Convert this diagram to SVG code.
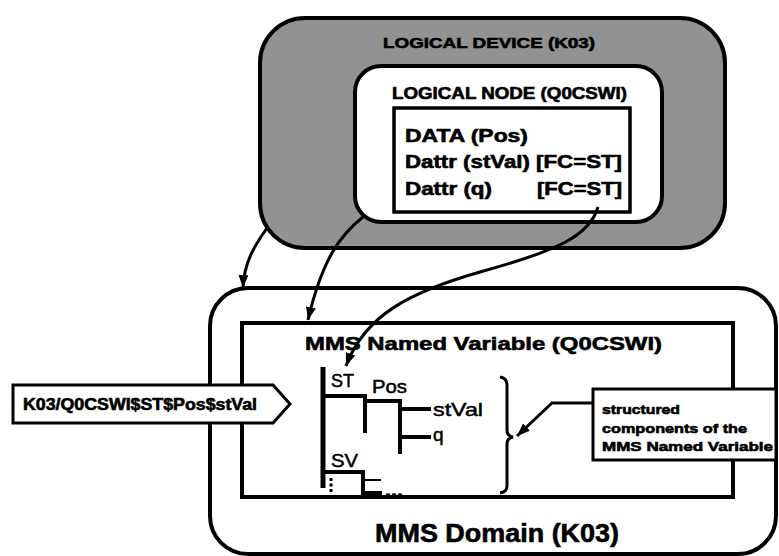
<svg xmlns="http://www.w3.org/2000/svg" width="779" height="556" viewBox="0 0 779 556">
<style>
text{font-family:"Liberation Sans",Arial,sans-serif;fill:#000;stroke:#000;stroke-width:0.5}
.b{font-weight:bold;stroke-width:0.6}
.box{stroke:#000;fill:#fff}
.ln{stroke:#000;fill:none;stroke-linecap:butt}
.con{stroke:#000;fill:none;stroke-width:3}
</style>
<defs>
<marker id="ah" markerUnits="userSpaceOnUse" markerWidth="14" markerHeight="10" refX="13" refY="5" orient="auto">
<path d="M0,0 L13,5 L0,10 z" fill="#000"/>
</marker>
</defs>
<rect width="779" height="556" fill="#fff"/>

<g id="domain">
<rect class="box" x="210" y="288" width="566" height="266" rx="38" stroke-width="4"/>
<text class="b" x="497" y="542" font-size="25" text-anchor="middle" textLength="244" lengthAdjust="spacingAndGlyphs">MMS Domain (K03)</text>
</g>

<g id="named-variable">
<rect class="box" x="242" y="323" width="491" height="174" stroke-width="4"/>
<text class="b" x="305" y="350" font-size="19" textLength="357" lengthAdjust="spacingAndGlyphs">MMS Named Variable (Q0CSWI)</text>
</g>

<g id="tree">
<path class="ln" stroke-width="5" d="M323 367 V488"/>
<path class="ln" stroke-width="4" d="M323 396 H365 V433 M363 401 H400 V454 M399 409 H431 M399 437 H431 M323 472 H363 V497 M363 493 H382"/>
<path class="ln" stroke-width="2" d="M363 480 H381"/>
<path class="ln" stroke-width="3" stroke-dasharray="3,2.5" d="M331 478 V494"/>
<text x="331" y="387" font-size="18">ST</text>
<text x="372" y="393" font-size="18" textLength="35" lengthAdjust="spacingAndGlyphs">Pos</text>
<text x="433" y="416" font-size="19" textLength="50" lengthAdjust="spacingAndGlyphs">stVal</text>
<text x="433" y="441" font-size="19">q</text>
<text x="331" y="467" font-size="18" textLength="27" lengthAdjust="spacingAndGlyphs">SV</text>
<text class="b" x="385" y="496" font-size="14" textLength="18" lengthAdjust="spacingAndGlyphs">...</text>
<path class="ln" stroke-width="3" d="M500 377 Q507 378 507 385 L507 430 Q507 436 513 437 Q507 438 507 444 L507 486 Q507 492 500 493"/>
</g>

<g id="logical-device">
<rect x="260" y="18" width="465" height="230" rx="45" fill="#929292" stroke="#000" stroke-width="4"/>
<text class="b" x="383" y="48" font-size="15" textLength="212" lengthAdjust="spacingAndGlyphs">LOGICAL DEVICE (K03)</text>
</g>

<g id="logical-node">
<rect class="box" x="355" y="66" width="307" height="156" rx="26" stroke-width="4"/>
<text class="b" x="392" y="99" font-size="16" textLength="235" lengthAdjust="spacingAndGlyphs">LOGICAL NODE (Q0CSWI)</text>
</g>

<g id="data">
<rect class="box" x="394" y="108" width="236" height="104" stroke-width="3.5"/>
<text class="b" x="405" y="142" font-size="19" textLength="123" lengthAdjust="spacingAndGlyphs">DATA (Pos)</text>
<text class="b" x="405" y="168" font-size="18" textLength="217" lengthAdjust="spacingAndGlyphs">Dattr (stVal) [FC=ST]</text>
<text class="b" x="405" y="195" font-size="18" textLength="87" lengthAdjust="spacingAndGlyphs">Dattr (q)</text>
<text class="b" x="537" y="195" font-size="18" textLength="85" lengthAdjust="spacingAndGlyphs">[FC=ST]</text>
</g>

<g id="callout">
<rect class="box" x="593" y="389" width="183" height="71" stroke-width="3"/>
<text class="b" x="602" y="414" font-size="13" textLength="78" lengthAdjust="spacingAndGlyphs">structured</text>
<text class="b" x="602" y="433" font-size="13" textLength="145" lengthAdjust="spacingAndGlyphs">components of the</text>
<text class="b" x="602" y="451" font-size="13" textLength="171" lengthAdjust="spacingAndGlyphs">MMS Named Variable</text>
</g>

<g id="reference-label">
<polygon points="13,385 273,385 290,404 273,423 13,423" fill="#fff" stroke="#000" stroke-width="3"/>
<text class="b" x="23" y="410" font-size="16" textLength="234" lengthAdjust="spacingAndGlyphs">K03/Q0CSWI$ST$Pos$stVal</text>
</g>

<g id="connectors">
<path class="con" d="M267 228 C255 245 244 262 243 288" marker-end="url(#ah)"/>
<path class="con" d="M363 217 C340 235 322 260 308 320" marker-end="url(#ah)"/>
<path class="con" d="M598 207 C590 235 560 250 480 272 C410 292 365 315 346 366" marker-end="url(#ah)"/>
<path class="con" d="M593 403 H552 L517 436" marker-end="url(#ah)"/>
</g>
</svg>
